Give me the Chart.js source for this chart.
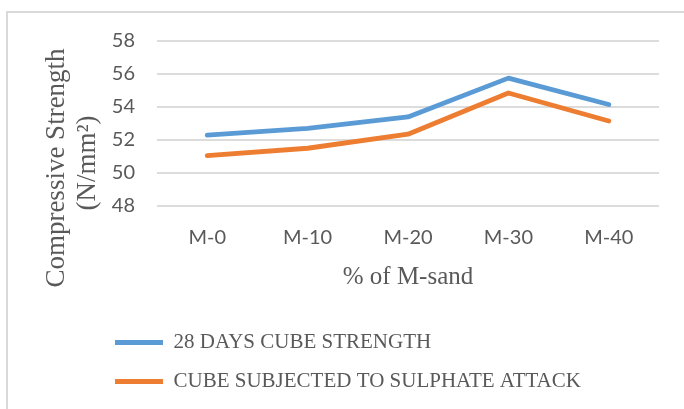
<!DOCTYPE html>
<html>
<head>
<meta charset="utf-8">
<script src="https://cdn.jsdelivr.net/npm/chart.js@4.4.1/dist/chart.umd.min.js"></script>
<style>
  html, body { margin: 0; padding: 0; background: #fff; }
  #wrap { position: relative; width: 684px; height: 409px; overflow: hidden; }
  #frame { position: absolute; left: 6px; top: 11px; width: 720px; height: 440px;
           border-left: 2px solid #d9d9d9; border-top: 2px solid #d9d9d9; }
  #chart { position: absolute; left: 0; top: 0; }
</style>
</head>
<body>
<div id="wrap">
  <div id="frame"></div>
  <canvas id="chart" width="684" height="409"></canvas>
</div>
<script>
// Mix designs (% of M-sand replacing river sand)
const categories = ['M-0', 'M-10', 'M-20', 'M-30', 'M-40'];

// Compressive strength, N/mm²
const cubeStrength28 = [52.3, 52.7, 53.4, 55.75, 54.15];
const sulphateAttack = [51.05, 51.5, 52.35, 54.85, 53.15];

const seriesNames = ['28 DAYS CUBE STRENGTH', 'CUBE SUBJECTED TO SULPHATE ATTACK'];
const yTitleLines = ['Compressive Strength', '(N/mm²)'];
const xTitleText = '% of M-sand';

const yMin = 48;
const yMax = 58;
const yStep = 2;

const textGrey = '#595959';
const serif = "'Liberation Serif', 'Times New Roman', serif";
const sans = "Lato, 'Open Sans', sans-serif";

// Two-line rotated caption to the left of the value axis
const sideTitle = {
  id: 'sideTitle',
  afterDraw(chart, args, opts) {
    const { ctx, chartArea } = chart;
    ctx.save();
    ctx.fillStyle = opts.color;
    ctx.font = opts.font;
    ctx.textAlign = 'center';
    ctx.textBaseline = 'middle';
    opts.lines.forEach((line, i) => {
      ctx.save();
      ctx.translate(chartArea.left - opts.offsets[i], chartArea.bottom - opts.fromBottom[i]);
      ctx.rotate(-Math.PI / 2);
      ctx.fillText(line, 0, 0);
      ctx.restore();
    });
    ctx.restore();
  }
};

new Chart(document.getElementById('chart'), {
  type: 'line',
  data: {
    labels: categories,
    datasets: [
      {
        label: seriesNames[0],
        data: cubeStrength28,
        borderColor: '#5b9bd5',
        backgroundColor: '#5b9bd5'
      },
      {
        label: seriesNames[1],
        data: sulphateAttack,
        borderColor: '#ed7d31',
        backgroundColor: '#ed7d31'
      }
    ]
  },
  options: {
    responsive: false,
    animation: false,
    devicePixelRatio: 1,
    datasets: {
      line: {
        borderWidth: 4.8,
        borderCapStyle: 'round',
        borderJoinStyle: 'round',
        pointRadius: 0,
        pointHoverRadius: 0,
        tension: 0,
        fill: false
      }
    },
    layout: { padding: { left: 97, right: 25, top: 41, bottom: 7 } },
    scales: {
      x: {
        offset: true,
        grid: { display: false, drawTicks: false },
        border: { display: false },
        ticks: { color: textGrey, font: { family: sans, size: 20 }, padding: 20, maxRotation: 0 },
        title: {
          display: true,
          text: xTitleText,
          color: textGrey,
          font: { family: serif, size: 25 },
          padding: { top: 0, bottom: 22 }
        },
        afterFit(scale) { scale.height = 108; }
      },
      y: {
        min: yMin,
        max: yMax,
        grid: { color: '#dcdcdc', lineWidth: 2, drawTicks: false },
        border: { display: false },
        ticks: { stepSize: yStep, color: textGrey, font: { family: sans, size: 20 }, padding: 22 },
        afterFit(scale) { scale.width = 60; }
      }
    },
    plugins: {
      tooltip: { enabled: false },
      legend: {
        position: 'bottom',
        align: 'start',
        labels: {
          usePointStyle: true,
          pointStyle: 'line',
          pointStyleWidth: 48,
          padding: 18,
          color: textGrey,
          font: { family: serif, size: 21 }
        }
      },
      sideTitle: {
        lines: yTitleLines,
        offsets: [100, 69],
        fromBottom: [38, 43],
        color: textGrey,
        font: '27px ' + serif
      }
    }
  },
  plugins: [sideTitle]
});
</script>
</body>
</html>
